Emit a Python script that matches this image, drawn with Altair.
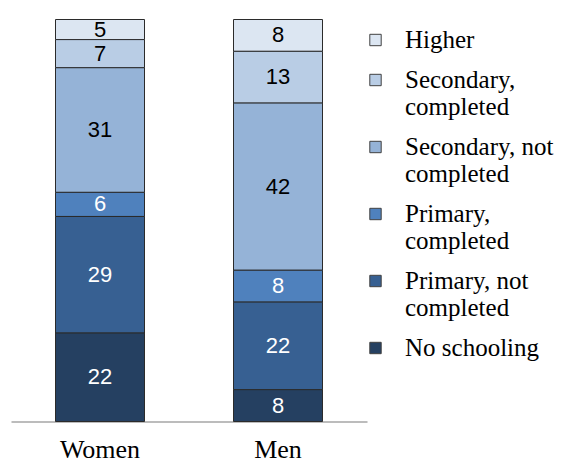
import altair as alt
import pandas as pd

groups = ["Women", "Men"]
levels = ["Higher", "Secondary, completed", "Secondary, not completed",
          "Primary, completed", "Primary, not completed", "No schooling"]
colors = ["#DCE6F2", "#B9CDE5", "#95B3D7", "#4F81BD", "#376092", "#254061"]
text_colors = ["black", "black", "black", "white", "white", "white"]
women = [5, 7, 31, 6, 29, 22]
men = [8, 13, 42, 8, 22, 8]

rows = []
for g, vals in zip(groups, [women, men]):
    for i, (lvl, v) in enumerate(zip(levels, vals)):
        rows.append({"group": g, "level": lvl, "value": v,
                     "ord": len(levels) - i, "tcol": text_colors[i]})
df = pd.DataFrame(rows)

base = alt.Chart(df).transform_stack(
    stack="value", groupby=["group"], as_=["y0", "y1"],
    sort=[alt.SortField("ord", order="ascending")], offset="normalize"
).transform_calculate(mid="(datum.y0 + datum.y1) / 2")

x = alt.X("group:N", sort=groups, title=None,
          scale=alt.Scale(paddingInner=0.5, paddingOuter=0.25),
          axis=alt.Axis(labelAngle=0, ticks=False, labelFont="Liberation Serif",
                        labelFontSize=26, labelColor="black", labelPadding=15,
                        domainColor="#a6a6a6", domainWidth=1.5))
yscale = alt.Scale(domain=[0, 1])

bars = base.mark_bar(stroke="#2b2b2b", strokeWidth=1).encode(
    x=x,
    y=alt.Y("y0:Q", scale=yscale, axis=None),
    y2="y1:Q",
    color=alt.Color("level:N", scale=alt.Scale(domain=levels, range=colors),
                    legend=alt.Legend(
                        title=None, orient="none", legendX=352, legendY=8,
                        symbolType="square", symbolSize=130,
                        symbolStrokeColor="#404040", symbolStrokeWidth=1,
                        labelFont="Liberation Serif", labelFontSize=25,
                        labelColor="black", labelOffset=17, rowPadding=14,
                        labelLimit=300,
                        labelExpr="indexof(datum.label, ' completed') > 0 ? [substring(datum.label, 0, indexof(datum.label, ' completed')), 'completed'] : datum.label")),
)

labels = base.mark_text(font="Liberation Sans", fontSize=22).encode(
    x=alt.X("group:N", sort=groups),
    y=alt.Y("mid:Q", scale=yscale),
    text="value:Q",
    color=alt.Color("tcol:N", scale=None),
)

chart = alt.layer(bars, labels).properties(
    width=356, height=402,
    autosize=alt.AutoSizeParams(type="none"),
    padding={"left": 3, "top": 11.5, "right": 194, "bottom": 43},
).configure_view(stroke=None)

chart.save("out.html", embed_options={"renderer": "svg", "actions": False})
